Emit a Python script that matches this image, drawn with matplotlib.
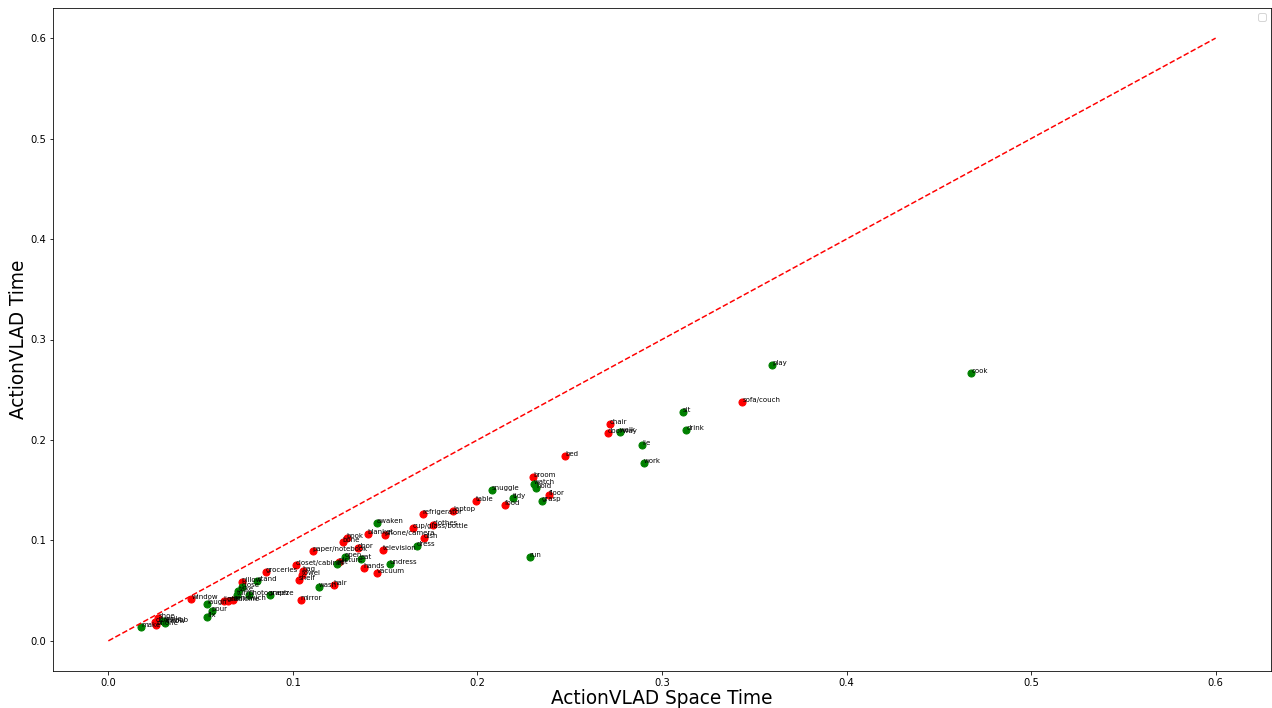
import matplotlib
matplotlib.use("Agg")
import matplotlib.pyplot as plt

# Objects (red)
obj_labels = ["sofa/couch", "bed", "chair", "doorway", "broom", "floor", "food", "table",
              "laptop", "refrigerator", "clothes", "cup/glass/bottle", "dish", "phone/camera",
              "blanket", "book", "bone", "door", "television", "paper/notebook", "picture",
              "hands", "vacuum", "closet/cabinet", "bag", "towel", "shelf", "hair", "mirror",
              "groceries", "pillow", "window", "light", "medicine", "sandwich", "doorknob",
              "shoe", "phone"]
obj_x = [0.3435, 0.2474, 0.2718, 0.2708, 0.2301, 0.2387, 0.2149, 0.1991,
         0.1867, 0.1704, 0.1758, 0.1649, 0.1709, 0.1498,
         0.1405, 0.1291, 0.1270, 0.1351, 0.1487, 0.1107, 0.1248,
         0.1384, 0.1454, 0.1015, 0.1053, 0.1047, 0.1031, 0.1221, 0.1042,
         0.0852, 0.0722, 0.0450, 0.0624, 0.0646, 0.0678, 0.0255,
         0.0271, 0.0260]
obj_y = [0.2378, 0.1841, 0.2159, 0.2070, 0.1632, 0.1453, 0.1353, 0.1393,
         0.1294, 0.1264, 0.1154, 0.1124, 0.1025, 0.1055,
         0.1065, 0.1025, 0.0985, 0.0925, 0.0905, 0.0896, 0.0786,
         0.0726, 0.0677, 0.0756, 0.0697, 0.0657, 0.0607, 0.0557, 0.0408,
         0.0687, 0.0587, 0.0418, 0.0398, 0.0398, 0.0408, 0.0189,
         0.0229, 0.0159]

# Verbs (green)
verb_labels = ["play", "cook", "sit", "drink", "walk", "lie", "work", "watch", "hold",
               "grasp", "tidy", "snuggle", "run", "awaken", "dress", "undress", "eat",
               "open", "put", "wash", "stand", "close", "take", "turn", "photograph",
               "sneeze", "laugh", "pour", "fix", "make", "smile", "throw"]
verb_x = [0.3597, 0.4677, 0.3114, 0.3131, 0.2773, 0.2892, 0.2903, 0.2306, 0.2317,
          0.2349, 0.2192, 0.2078, 0.2284, 0.1454, 0.1671, 0.1525, 0.1367,
          0.1281, 0.1237, 0.1139, 0.0808, 0.0722, 0.0705, 0.0695, 0.0760,
          0.0874, 0.0537, 0.0559, 0.0537, 0.0179, 0.0298, 0.0309]
verb_y = [0.2746, 0.2667, 0.2279, 0.2100, 0.2080, 0.1950, 0.1771, 0.1562, 0.1522,
          0.1393, 0.1423, 0.1502, 0.0836, 0.1174, 0.0945, 0.0766, 0.0816,
          0.0836, 0.0766, 0.0537, 0.0597, 0.0537, 0.0498, 0.0458, 0.0458,
          0.0458, 0.0368, 0.0299, 0.0239, 0.0139, 0.0199, 0.0179]

diag = [0.0, 0.6]

fig = plt.figure(figsize=(1272 / 72, 708 / 72), dpi=72)
ax = fig.add_axes([53 / 1272, 1 - 671 / 708, (1271 - 53) / 1272, (671 - 8) / 708])

ax.scatter(obj_x, obj_y, c="red", s=50)
ax.scatter(verb_x, verb_y, c="green", s=50)
for lab, x, y in zip(obj_labels, obj_x, obj_y):
    ax.annotate(lab, (x, y), fontsize=7)
for lab, x, y in zip(verb_labels, verb_x, verb_y):
    ax.annotate(lab, (x, y), fontsize=7)

ax.plot(diag, diag, "r--")
ax.set_xlabel("ActionVLAD Space Time", fontsize=18.5, labelpad=1)
ax.set_ylabel("ActionVLAD Time", fontsize=18.5, labelpad=2)
ax.legend(handles=[])

fig.savefig("out.png", dpi=72)
